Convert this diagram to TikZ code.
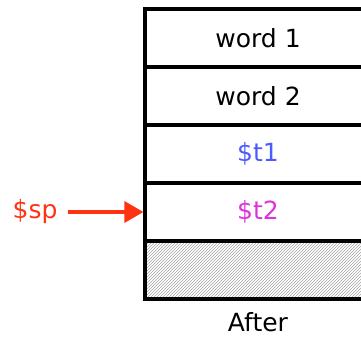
\documentclass[tikz,border=0pt]{standalone}
\usepackage{fontspec}
\setmainfont{DejaVu Sans}
\usetikzlibrary{arrows.meta,patterns}
\definecolor{spred}{RGB}{255,51,17}
\definecolor{tone}{RGB}{77,90,255}
\definecolor{ttwo}{RGB}{221,51,221}
\begin{document}
\begin{tikzpicture}[x=1pt,y=1pt,
  cell/.style={draw=black, line width=3.2pt, minimum width=226pt, minimum height=58pt,
    inner sep=0pt, font=\fontsize{25}{28}\selectfont},
  lbl/.style={font=\fontsize{25}{28}\selectfont, inner sep=0pt}]
\useasboundingbox (0,0) rectangle (361,337);
\node[cell, pattern=north east lines, pattern color=black!35] (fr) at (258,67) {};
\node[cell, text=ttwo] (t2) at (258,125) {\$t2};
\node[cell, text=tone] (t1) at (258,183) {\$t1};
\node[cell] (w2) at (258,241) {word 2};
\node[cell] (w1) at (258,299) {word 1};
\node[lbl] (after) at (258,15) {After};
\node[lbl, text=spred] (sp) at (35,125) {\$sp};
\coordinate (spstart) at (68,125);
\draw[spred, line width=3.4pt, -{Triangle[length=19pt,width=21pt]}] (spstart) -- (t2.west);
\end{tikzpicture}
\end{document}
